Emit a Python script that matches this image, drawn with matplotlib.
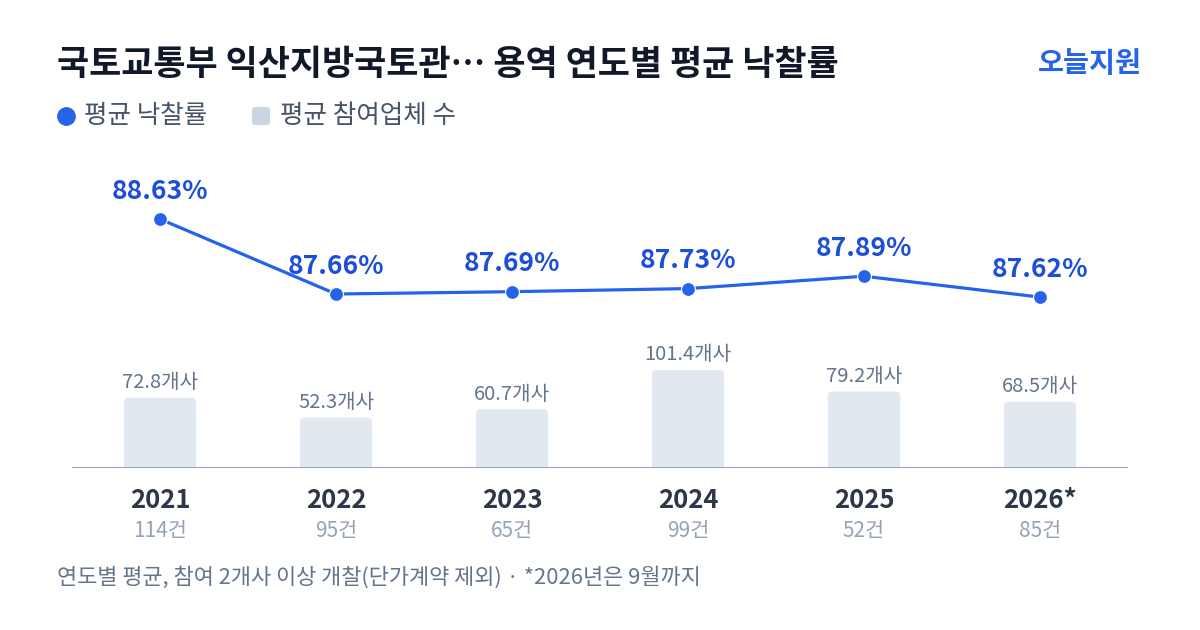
import matplotlib
matplotlib.use("Agg")
import matplotlib.pyplot as plt
from matplotlib.patches import FancyBboxPatch

plt.rcParams['font.family'] = ['Noto Sans CJK KR', 'DejaVu Sans']

# data
years = ['2021', '2022', '2023', '2024', '2025', '2026*']
rates = [88.63, 87.66, 87.69, 87.73, 87.89, 87.62]
bidders = [72.8, 52.3, 60.7, 101.4, 79.2, 68.5]
counts = [114, 95, 65, 99, 52, 85]

W, H = 1200, 630
blue = '#2563EB'
blue_txt = '#1D4ED8'
bar_col = '#E2E8F0'

fig = plt.figure(figsize=(W / 100, H / 100), dpi=100)
fig.patch.set_facecolor('white')

def fy(py):
    return 1 - py / H

# axes for bars: x 72..1128 px, y 150..468 px
ax = fig.add_axes([72 / W, fy(468), 1056 / W, 318 / H])
ax.set_xlim(-0.5, 5.5)
ax.set_ylim(0, 329.2)
ax.axis('off')

bw = 0.41
for i, v in enumerate(bidders):
    p = FancyBboxPatch((i - bw / 2, 0), bw, v,
                       boxstyle="round,pad=0,rounding_size=0.025",
                       mutation_aspect=180, fc=bar_col, ec='none', zorder=1)
    ax.add_patch(p)
    ax.annotate(f'{v}개사', (i, v), xytext=(0, 11), textcoords='offset points',
                ha='center', va='center', fontsize=14.5, color='#64748B')

ax.axhline(0, color='#94A3B8', lw=1.5, zorder=2)

# line axes
ax2 = ax.twinx()
ax2.set_ylim(85.409, 89.523)
ax2.axis('off')
xs = list(range(len(rates)))
ax2.plot(xs, rates, color=blue, lw=2.3, marker='o', markersize=10,
         markeredgecolor='white', markeredgewidth=0.8, zorder=3)
for i, r in enumerate(rates):
    ax2.annotate(f'{r:.2f}%', (i, r), xytext=(0, 20), textcoords='offset points',
                 ha='center', va='center', fontsize=19, fontweight='bold', color=blue_txt)

# year and count labels
for i, (y, c) in enumerate(zip(years, counts)):
    ax.annotate(y, (i, 0), xytext=(0, -23.5), textcoords='offset points',
                ha='center', va='center', fontsize=18.5, fontweight='bold',
                color='#2D3748', annotation_clip=False)
    ax.annotate(f'{c}건', (i, 0), xytext=(0, -45.5), textcoords='offset points',
                ha='center', va='center', fontsize=15, color='#94A3B8',
                annotation_clip=False)

# title, brand, legend, footer
fig.text(57 / W, fy(64), '국토교통부 익산지방국토관… 용역 연도별 평균 낙찰률',
         fontsize=25.2, fontweight='bold', color='#111827', va='center', ha='left')
fig.text(1142 / W, fy(64), '오늘지원', fontsize=20.4, fontweight='bold',
         color=blue, va='center', ha='right')

lax = fig.add_axes([0, 0, 1, 1])
lax.set_xlim(0, W)
lax.set_ylim(H, 0)
lax.axis('off')
lax.plot([66], [116], 'o', color=blue, markersize=12.5)
lax.add_patch(FancyBboxPatch((252, 107), 18, 18, boxstyle="round,pad=0,rounding_size=3",
                             fc='#CBD5E1', ec='none'))
lax.text(84, 116, '평균 낙찰률', fontsize=18.4, color='#475569', va='center', ha='left')
lax.text(280, 116, '평균 참여업체 수', fontsize=18.4, color='#475569', va='center', ha='left')

fig.text(57 / W, fy(577), '연도별 평균, 참여 2개사 이상 개찰(단가계약 제외) · *2026년은 9월까지',
         fontsize=15.8, color='#64748B', va='center', ha='left')

fig.savefig('out.png', dpi=100, facecolor='white')
